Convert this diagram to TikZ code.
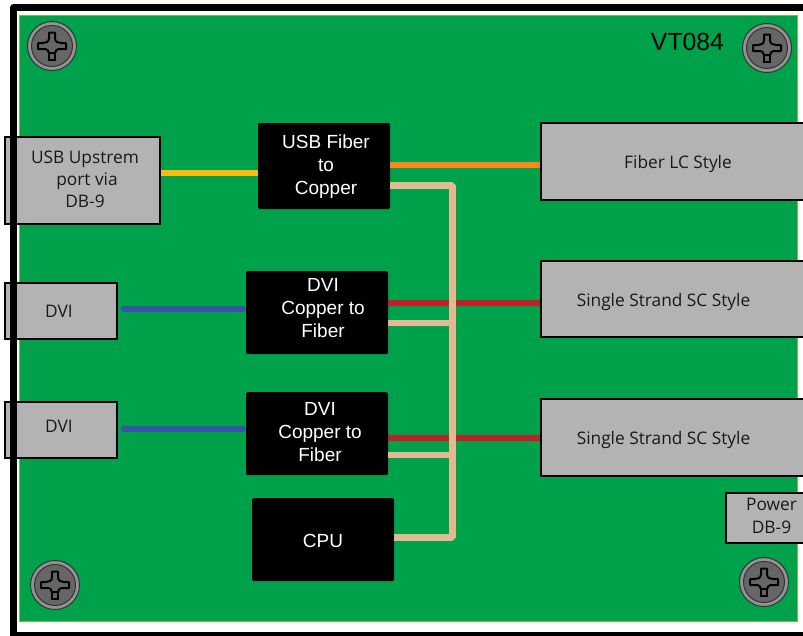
\documentclass[tikz,border=0pt]{standalone}
\usepackage{fontspec}
\setmainfont{Liberation Sans}
\newfontfamily\portfont{Open Sans}
\definecolor{boardgreen}{HTML}{00A14B}
\definecolor{boardedge}{HTML}{6CC24A}
\definecolor{portgrey}{HTML}{B3B3B3}
\definecolor{screwgrey}{HTML}{666666}
\definecolor{ringgrey}{HTML}{939393}
\definecolor{wiretan}{HTML}{E2BA92}
\definecolor{wireyellow}{HTML}{FDB913}
\definecolor{wireorange}{HTML}{F7891F}
\definecolor{wirered}{HTML}{BE2026}
\definecolor{wireblue}{HTML}{3953A4}

\begin{document}
\begin{tikzpicture}[x=1pt,y=-1pt,
% node style
port/.style={rectangle, draw=black, line width=1.5pt, fill=portgrey, inner sep=0pt},
port_txt/.style={align=center, inner sep=0pt, text=black!90, font=\portfont\fontsize{17.3}{22}\selectfont},
chip/.style={rectangle, rounded corners=1.5pt, fill=black, inner sep=0pt, minimum width=142pt, minimum height=83pt},
chip_txt/.style={align=center, inner sep=0pt, text=white, font=\fontsize{19}{23}\selectfont},
wire/.style={line width=6pt},
screw/.pic={
  \draw[black!80, line width=1pt, fill=ringgrey] (0,0) circle (24.5);
  \draw[black!80, line width=1pt, fill=screwgrey] (0,0) circle (20.5);
  \draw[black, line width=2pt, fill=screwgrey, line join=round]
    (-3,-13.5) -- (3,-13.5) -- (3,-8) .. controls (3,-4) and (6,-3) .. (9,-3) -- (14,-3) -- (14,3)
    -- (9,3) .. controls (5,3) and (3,4) .. (3,7) -- (-3,7) .. controls (-3,4) and (-5,3) .. (-9,3)
    -- (-14,3) -- (-14,-3) -- (-9,-3) .. controls (-6,-3) and (-3,-4) .. (-3,-8) -- cycle;
  \draw[black, line width=2pt] (-3,7) -- (-3,14) -- (3,14) -- (3,7);
}]

\clip (0,0) rectangle (803,635);

% board
\fill[white] (0,0) rectangle (803,635);
\draw[fill=boardgreen, draw=boardedge, line width=1pt] (19.5,15.5) rectangle (797.5,621);

% screws
\pic at (52,46) {screw};
\pic at (767,48) {screw};
\pic at (55,585) {screw};
\pic at (764,582) {screw};

% nodes
\node[port, minimum width=155pt, minimum height=87pt] (usb_port) at (82.5,180.5) {};
\node[port, minimum width=112pt, minimum height=56pt] (dvi_a) at (61,311) {};
\node[port, minimum width=112pt, minimum height=56pt] (dvi_b) at (61,430) {};
\node[port, minimum width=274pt, minimum height=77pt] (fiber_lc) at (678,161.5) {};
\node[port, minimum width=274pt, minimum height=76pt] (sc_a) at (678,299) {};
\node[port, minimum width=274pt, minimum height=77pt] (sc_b) at (678,437.5) {};
\node[port, minimum width=90pt, minimum height=50pt] (power) at (771,518) {};

\node[chip, minimum width=132pt, minimum height=86pt] (usb_fiber) at (324,166) {};
\node[chip] (dvi_fiber_a) at (317,312.5) {};
\node[chip] (dvi_fiber_b) at (317,433.5) {};
\node[chip] (cpu) at (323,539.5) {};

% texts, the boxes do not centre them
\node[port_txt, xshift=2.5pt, yshift=1pt] (usb_port_txt) at (usb_port) {USB Upstrem\\\hspace*{4pt}port via\\DB-9};
\node[port_txt, xshift=-2pt] (dvi_a_txt) at (dvi_a) {DVI};
\node[port_txt, xshift=-2pt, yshift=4pt] (dvi_b_txt) at (dvi_b) {DVI};
\node[port_txt, yshift=-3pt] (fiber_lc_txt) at (fiber_lc) {Fiber LC Style};
\node[port_txt, xshift=-14.5pt, yshift=-3pt] (sc_a_txt) at (sc_a) {Single Strand SC Style};
\node[port_txt, xshift=-14.5pt, yshift=-2pt] (sc_b_txt) at (sc_b) {Single Strand SC Style};
\node[port_txt, xshift=0.5pt, yshift=2.5pt, font=\portfont\fontsize{17.3}{23}\selectfont] (power_txt) at (power) {Power\\DB-9};

\node[chip_txt, xshift=2pt, yshift=-1pt] (usb_fiber_txt) at (usb_fiber) {USB Fiber\\to\\Copper};
\node[chip_txt, xshift=6pt, yshift=4pt] (dvi_fiber_a_txt) at (dvi_fiber_a) {DVI\\Copper to\\Fiber};
\node[chip_txt, xshift=3pt, yshift=1pt] (dvi_fiber_b_txt) at (dvi_fiber_b) {DVI\\Copper to\\Fiber};
\node[chip_txt, yshift=-1pt] (cpu_txt) at (cpu) {CPU};

% free ends and bus
\coordinate (dvi_a_out) at (124,308.5);
\coordinate (dvi_b_out) at (124,429);
\coordinate (bus_top) at (452.7,185.5);
\coordinate (bus_bottom) at (452.7,537.7);
\coordinate (tan_a) at ([yshift=-10.5pt]dvi_fiber_a.east);
\coordinate (tan_b) at ([yshift=-21pt]dvi_fiber_b.east);

% draw lines between nodes
\draw[wire, wireyellow] ([yshift=7.5pt]usb_port.east) -- ([yshift=-7pt]usb_fiber.west);
\draw[wire, wireorange] ([yshift=1.3pt]usb_fiber.east) -- ([yshift=-3.2pt]fiber_lc.west);
\draw[wire, wireblue, line cap=round, shorten >=3pt] (dvi_a_out) -- (dvi_a_out -| dvi_fiber_a.west);
\draw[wire, wireblue, line cap=round, shorten >=3pt] (dvi_b_out) -- (dvi_b_out -| dvi_fiber_b.west);
\draw[wire, wirered] ([yshift=9.8pt]dvi_fiber_a.east) -- ([yshift=-3.7pt]sc_a.west);
\draw[wire, wirered] ([yshift=-4.2pt]dvi_fiber_b.east) -- ([yshift=-0.2pt]sc_b.west);

% bus on top of the red lines
\draw[wire, wiretan, line width=6.5pt, line join=bevel] (bus_top -| usb_fiber.east) -- (bus_top) -- (bus_bottom) -- (bus_bottom -| cpu.east);
\draw[wire, wiretan] (tan_a) -- (tan_a -| bus_top);
\draw[wire, wiretan] (tan_b) -- (tan_b -| bus_top);

% frame and label
\draw[line width=7pt, line join=round] (813,7.5) -- (13.5,7.5) -- (13.5,635.5) -- (813,635.5);
\node[font=\fontsize{24.8}{28}\selectfont, inner sep=0pt] (model) at (687.5,42) {VT084};

\end{tikzpicture}
\end{document}
